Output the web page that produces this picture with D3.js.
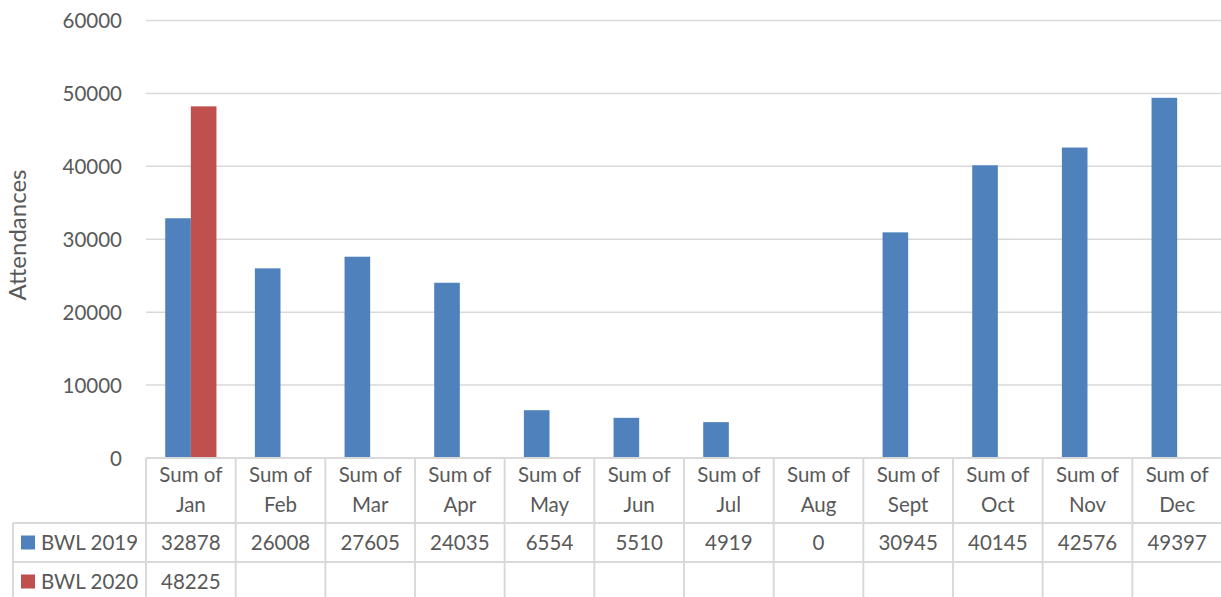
<!DOCTYPE html>
<html>
<head>
<meta charset="utf-8">
<script src="https://cdn.jsdelivr.net/npm/d3@7"></script>
<style>
  html, body { margin: 0; padding: 0; background: #ffffff; }
  svg { display: block; }
  text { font-family: Lato, "Open Sans", sans-serif; fill: #595959; }
</style>
</head>
<body>
<svg id="chart" width="1221" height="597"></svg>
<script>
// Monthly attendance totals
const months = ["Jan", "Feb", "Mar", "Apr", "May", "Jun", "Jul", "Aug", "Sept", "Oct", "Nov", "Dec"];
const categoryLabels = months.map(m => "Sum of " + m);
const seriesNames = ["BWL 2019", "BWL 2020"];
const bwl2019 = [32878, 26008, 27605, 24035, 6554, 5510, 4919, 0, 30945, 40145, 42576, 49397];
const bwl2020 = [48225, null, null, null, null, null, null, null, null, null, null, null];
const yTicks = [0, 10000, 20000, 30000, 40000, 50000, 60000];
const colors = ["#4F81BD", "#C0504D"];

const series = [bwl2019, bwl2020];

const svg = d3.select("#chart");
const W = 1221;

const plot = { left: 146, right: 1222, top: 20.5, bottom: 458 };
const table = { left: 13, headerBottom: 523, row1Bottom: 562, row2Bottom: 601 };
const fontSize = 20.5;
const gridColor = "#D9D9D9";

const x = d3.scaleBand()
  .domain(categoryLabels)
  .range([plot.left, plot.right])
  .paddingInner(0)
  .paddingOuter(0);

// two bars per cluster, 150% gap width split evenly on both sides
const bw = x.bandwidth();
const barW = bw / 3.5;
const sidePad = (bw - 2 * barW) / 2;
const xs = d3.scaleBand()
  .domain(seriesNames)
  .range([sidePad, sidePad + 2 * barW])
  .padding(0);

const y = d3.scaleLinear()
  .domain([0, 60000])
  .range([plot.bottom, plot.top]);

// horizontal gridlines
svg.append("g")
  .selectAll("line")
  .data(yTicks)
  .join("line")
  .attr("x1", plot.left)
  .attr("x2", W)
  .attr("y1", d => y(d))
  .attr("y2", d => y(d))
  .attr("stroke", gridColor)
  .attr("stroke-width", 1.5);

// y axis tick labels
const yAxis = d3.axisLeft(y).tickValues(yTicks).tickSize(0).tickPadding(0).tickFormat(d3.format("d"));
const yg = svg.append("g")
  .attr("transform", `translate(${122},0)`)
  .call(yAxis);
yg.select(".domain").remove();
yg.selectAll("text")
  .style("font-family", "Lato, 'Open Sans', sans-serif")
  .style("font-size", fontSize + "px")
  .attr("fill", "#595959")
  .attr("dy", "0.36em");

// axis title
svg.append("text")
  .attr("transform", `translate(26,${235}) rotate(-90)`)
  .attr("text-anchor", "middle")
  .style("font-size", "24px")
  .text("Attendances");

// bars
series.forEach((vals, si) => {
  svg.append("g")
    .selectAll("rect")
    .data(vals.map((v, i) => ({ v, c: categoryLabels[i] })).filter(d => d.v !== null && d.v > 0))
    .join("rect")
    .attr("x", d => x(d.c) + xs(seriesNames[si]))
    .attr("width", xs.bandwidth())
    .attr("y", d => y(d.v))
    .attr("height", d => y(0) - y(d.v))
    .attr("fill", colors[si]);
});

// data table grid
const tg = svg.append("g").attr("stroke", gridColor).attr("stroke-width", 2).attr("fill", "none");
// column separators
const colEdges = categoryLabels.map(c => x(c)).concat([plot.right]);
colEdges.forEach(cx => {
  tg.append("line").attr("x1", cx).attr("x2", cx).attr("y1", plot.bottom).attr("y2", table.row2Bottom);
});
// row separators
[table.headerBottom, table.row1Bottom].forEach(ry => {
  tg.append("line").attr("x1", table.left).attr("x2", W).attr("y1", ry).attr("y2", ry);
});
tg.append("line").attr("x1", plot.left).attr("x2", W).attr("y1", plot.bottom).attr("y2", plot.bottom);
tg.append("line").attr("x1", table.left).attr("x2", table.left).attr("y1", table.headerBottom).attr("y2", table.row2Bottom);

// header labels
const header = svg.append("g");
categoryLabels.forEach((c, i) => {
  const cx = x(c) + bw / 2;
  header.append("text")
    .attr("x", cx).attr("y", 482)
    .attr("text-anchor", "middle")
    .style("font-size", fontSize + "px")
    .text("Sum of");
  header.append("text")
    .attr("x", cx).attr("y", 512)
    .attr("text-anchor", "middle")
    .style("font-size", fontSize + "px")
    .text(months[i]);
});

// series rows: legend key, name, values
const rowCenters = [(table.headerBottom + table.row1Bottom) / 2, (table.row1Bottom + table.row2Bottom) / 2];
series.forEach((vals, si) => {
  const cy = rowCenters[si];
  const g = svg.append("g");
  g.append("rect")
    .attr("x", 21).attr("y", cy - 7)
    .attr("width", 14).attr("height", 14)
    .attr("fill", colors[si]);
  g.append("text")
    .attr("x", 41).attr("y", cy)
    .attr("dy", "0.36em")
    .style("font-size", fontSize + "px")
    .text(seriesNames[si]);
  g.selectAll("text.val")
    .data(vals.map((v, i) => ({ v, c: categoryLabels[i] })).filter(d => d.v !== null))
    .join("text")
    .attr("class", "val")
    .attr("x", d => x(d.c) + bw / 2)
    .attr("y", cy)
    .attr("dy", "0.36em")
    .attr("text-anchor", "middle")
    .style("font-size", fontSize + "px")
    .text(d => d.v);
});
</script>
</body>
</html>
